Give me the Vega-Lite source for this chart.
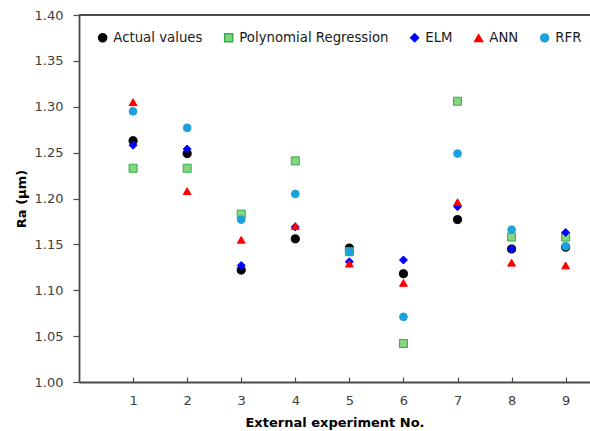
{
  "$schema": "https://vega.github.io/schema/vega-lite/v6.json",
  "width": 511,
  "height": 367,
  "autosize": {"type": "none"},
  "padding": {"left": 79, "top": 15, "right": 0, "bottom": 49},
  "background": "white",
  "config": {
    "view": {"stroke": null},
    "font": "DejaVu Sans",
    "axis": {"labelFont": "DejaVu Sans", "titleFont": "DejaVu Sans", "labelFontSize": 13, "titleFontSize": 13, "titleFontWeight": "bold", "labelColor": "#404040", "titleColor": "#000000", "domainColor": "#4a4a4a", "tickColor": "#4a4a4a", "domainWidth": 1.8, "tickWidth": 1.2, "grid": false},
    "legend": {"title": null, "orient": "none", "legendX": 17, "legendY": 16, "direction": "horizontal", "columnPadding": 18, "labelOffset": 4, "labelFontSize": 13.3, "labelFont": "DejaVu Sans", "labelColor": "#1a1a1a", "symbolSize": 60, "padding": 0}
  },
  "data": {
    "values": [
      {"exp": 1, "series": "Actual values", "ra": 1.263},
      {"exp": 2, "series": "Actual values", "ra": 1.249},
      {"exp": 3, "series": "Actual values", "ra": 1.122},
      {"exp": 4, "series": "Actual values", "ra": 1.156},
      {"exp": 5, "series": "Actual values", "ra": 1.146},
      {"exp": 6, "series": "Actual values", "ra": 1.118},
      {"exp": 7, "series": "Actual values", "ra": 1.177},
      {"exp": 8, "series": "Actual values", "ra": 1.145},
      {"exp": 9, "series": "Actual values", "ra": 1.147},
      {"exp": 1, "series": "Polynomial Regression", "ra": 1.233},
      {"exp": 2, "series": "Polynomial Regression", "ra": 1.233},
      {"exp": 3, "series": "Polynomial Regression", "ra": 1.183},
      {"exp": 4, "series": "Polynomial Regression", "ra": 1.241},
      {"exp": 5, "series": "Polynomial Regression", "ra": 1.142},
      {"exp": 6, "series": "Polynomial Regression", "ra": 1.042},
      {"exp": 7, "series": "Polynomial Regression", "ra": 1.306},
      {"exp": 8, "series": "Polynomial Regression", "ra": 1.158},
      {"exp": 9, "series": "Polynomial Regression", "ra": 1.158},
      {"exp": 1, "series": "ELM", "ra": 1.258},
      {"exp": 2, "series": "ELM", "ra": 1.254},
      {"exp": 3, "series": "ELM", "ra": 1.127},
      {"exp": 4, "series": "ELM", "ra": 1.169},
      {"exp": 5, "series": "ELM", "ra": 1.131},
      {"exp": 6, "series": "ELM", "ra": 1.133},
      {"exp": 7, "series": "ELM", "ra": 1.191},
      {"exp": 8, "series": "ELM", "ra": 1.145},
      {"exp": 9, "series": "ELM", "ra": 1.163},
      {"exp": 1, "series": "ANN", "ra": 1.305},
      {"exp": 2, "series": "ANN", "ra": 1.208},
      {"exp": 3, "series": "ANN", "ra": 1.155},
      {"exp": 4, "series": "ANN", "ra": 1.170},
      {"exp": 5, "series": "ANN", "ra": 1.129},
      {"exp": 6, "series": "ANN", "ra": 1.108},
      {"exp": 7, "series": "ANN", "ra": 1.196},
      {"exp": 8, "series": "ANN", "ra": 1.130},
      {"exp": 9, "series": "ANN", "ra": 1.127},
      {"exp": 1, "series": "RFR", "ra": 1.295},
      {"exp": 2, "series": "RFR", "ra": 1.277},
      {"exp": 3, "series": "RFR", "ra": 1.177},
      {"exp": 4, "series": "RFR", "ra": 1.205},
      {"exp": 5, "series": "RFR", "ra": 1.142},
      {"exp": 6, "series": "RFR", "ra": 1.071},
      {"exp": 7, "series": "RFR", "ra": 1.249},
      {"exp": 8, "series": "RFR", "ra": 1.166},
      {"exp": 9, "series": "RFR", "ra": 1.148}
    ]
  },
  "layer": [
    {
      "mark": {"type": "rule", "color": "#4a4a4a", "strokeWidth": 1.5},
      "encoding": {"y": {"datum": 1.4}}
    },
    {
      "mark": {"type": "point", "filled": true, "strokeWidth": 1, "opacity": 1},
      "encoding": {
        "x": {
          "field": "exp", "type": "quantitative",
          "scale": {"domain": [0, 9.45], "nice": false, "zero": false},
          "axis": {"values": [1, 2, 3, 4, 5, 6, 7, 8, 9], "title": "External experiment No.", "tickSize": -5, "labelPadding": 17, "titlePadding": 9, "labelFlush": false}
        },
        "y": {
          "field": "ra", "type": "quantitative",
          "scale": {"domain": [1.0, 1.4], "nice": false, "zero": false},
          "axis": {"values": [1.0, 1.05, 1.1, 1.15, 1.2, 1.25, 1.3, 1.35, 1.4], "format": ".2f", "title": "Ra (µm)", "tickSize": 6, "labelPadding": 10, "titlePadding": 6}
        },
        "shape": {
          "field": "series", "type": "nominal",
          "scale": {"domain": ["Actual values", "Polynomial Regression", "ELM", "ANN", "RFR"], "range": ["circle", "square", "diamond", "triangle-up", "circle"]}
        },
        "fill": {
          "field": "series", "type": "nominal",
          "scale": {"domain": ["Actual values", "Polynomial Regression", "ELM", "ANN", "RFR"], "range": ["#000000", "#86d47e", "#0000ff", "#ff0000", "#1ba1dd"]}
        },
        "stroke": {
          "field": "series", "type": "nominal",
          "scale": {"domain": ["Actual values", "Polynomial Regression", "ELM", "ANN", "RFR"], "range": ["#000000", "#2fb04a", "#0000ff", "#ff0000", "#1ba1dd"]}
        },
        "size": {
          "field": "series", "type": "nominal",
          "scale": {"domain": ["Actual values", "Polynomial Regression", "ELM", "ANN", "RFR"], "range": [66, 60, 45, 55, 66]}
        }
      }
    }
  ]
}
